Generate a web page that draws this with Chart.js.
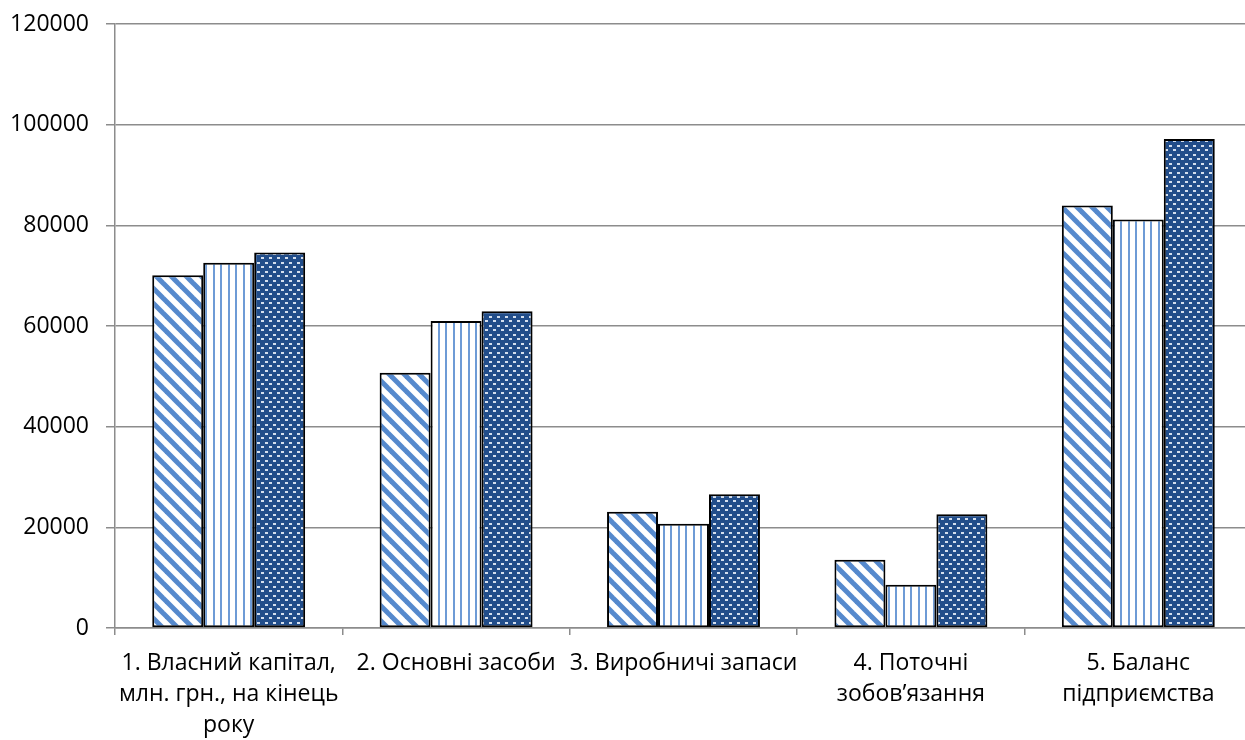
<!DOCTYPE html>
<html>
<head>
<meta charset="utf-8">
<script src="https://cdn.jsdelivr.net/npm/chart.js@4/dist/chart.umd.min.js"></script>
<style>
  html, body { margin: 0; padding: 0; background: #fff; overflow: hidden; }
  #wrap { width: 1260px; height: 740px; }
</style>
</head>
<body>
<div id="wrap"><canvas id="c" width="1260" height="740"></canvas></div>
<script>
// Категорії показників (багаторядкові підписи осі X)
const categories = [
  ["1. Власний капітал,", "млн. грн., на кінець", "року"],
  "2. Основні засоби",
  "3. Виробничі запаси",
  ["4. Поточні", "зобов’язання"],
  ["5. Баланс", "підприємства"]
];

// Значення трьох рядів
const series1 = [70100, 50700, 23100, 13560, 83950];
const series2 = [72550, 60970, 20710, 8600, 81170];
const series3 = [74600, 62950, 26550, 22580, 97170];

// Поділки осі Y
const yTicks = [0, 20000, 40000, 60000, 80000, 100000, 120000];

const FONT = "'Open Sans', 'DejaVu Sans', sans-serif";

// Штрихування: діагональні смуги
function diagonalPattern() {
  const t = 15;
  const cv = document.createElement('canvas');
  cv.width = t; cv.height = t;
  const g = cv.getContext('2d');
  g.fillStyle = '#ffffff';
  g.fillRect(0, 0, t, t);
  g.strokeStyle = '#5589cd';
  g.lineWidth = 5;
  for (const o of [-t, 0, t]) {
    g.beginPath();
    g.moveTo(o - 3, -3);
    g.lineTo(o + t + 3, t + 3);
    g.stroke();
  }
  return g.createPattern(cv, 'repeat');
}

// Штрихування: вертикальні лінії
function verticalPattern() {
  const cv = document.createElement('canvas');
  cv.width = 15; cv.height = 4;
  const g = cv.getContext('2d');
  g.fillStyle = '#ffffff';
  g.fillRect(0, 0, 15, 4);
  g.fillStyle = '#6e9bd6';
  g.fillRect(3, 0, 2, 4);
  g.fillRect(10, 0, 2, 4);
  return g.createPattern(cv, 'repeat');
}

// Штрихування: темне тло з білими крапками
function dottedPattern() {
  const cv = document.createElement('canvas');
  cv.width = 8; cv.height = 9;
  const g = cv.getContext('2d');
  g.fillStyle = '#214d8a';
  g.fillRect(0, 0, 8, 9);
  g.fillStyle = '#d4dfee';
  g.fillRect(1, 1, 3, 2);
  g.fillRect(5, 5, 3, 2);
  return g.createPattern(cv, 'repeat');
}

const GRID = '#8c8c8c';

new Chart(document.getElementById('c'), {
  type: 'bar',
  data: {
    labels: categories,
    datasets: [
      { label: 'Ряд 1', data: series1, backgroundColor: diagonalPattern(), borderColor: '#000', borderWidth: 2 },
      { label: 'Ряд 2', data: series2, backgroundColor: verticalPattern(), borderColor: '#000', borderWidth: 2 },
      { label: 'Ряд 3', data: series3, backgroundColor: dottedPattern(), borderColor: '#000', borderWidth: 2 }
    ]
  },
  options: {
    responsive: false,
    animation: false,
    events: [],
    layout: { padding: { top: 24, right: 8, left: 0, bottom: 0 } },
    plugins: { legend: { display: false }, tooltip: { enabled: false } },
    datasets: { bar: { categoryPercentage: 0.6725, barPercentage: 1.0, borderSkipped: false } },
    scales: {
      x: {
        grid: { offset: true, drawOnChartArea: false, drawTicks: true, tickLength: 7, color: GRID, lineWidth: 1.5 },
        border: { color: GRID, width: 1.5 },
        ticks: {
          color: '#000',
          padding: 13,
          maxRotation: 0,
          autoSkip: false,
          font: { family: FONT, size: 23, lineHeight: 1.35 }
        },
        afterFit: s => { s.height = 112; }
      },
      y: {
        min: 0,
        max: 120000,
        afterBuildTicks: s => { s.ticks = yTicks.map(v => ({ value: v })); },
        grid: { color: GRID, lineWidth: 1.5, drawTicks: true, tickLength: 9 },
        border: { color: GRID, width: 1.5 },
        ticks: {
          color: '#000',
          padding: 17,
          font: { family: FONT, size: 23 },
          callback: v => String(v)
        },
        afterFit: s => { s.width = 115; s.paddingTop = 0; s.paddingBottom = 0; }
      }
    }
  }
});
</script>
</body>
</html>
